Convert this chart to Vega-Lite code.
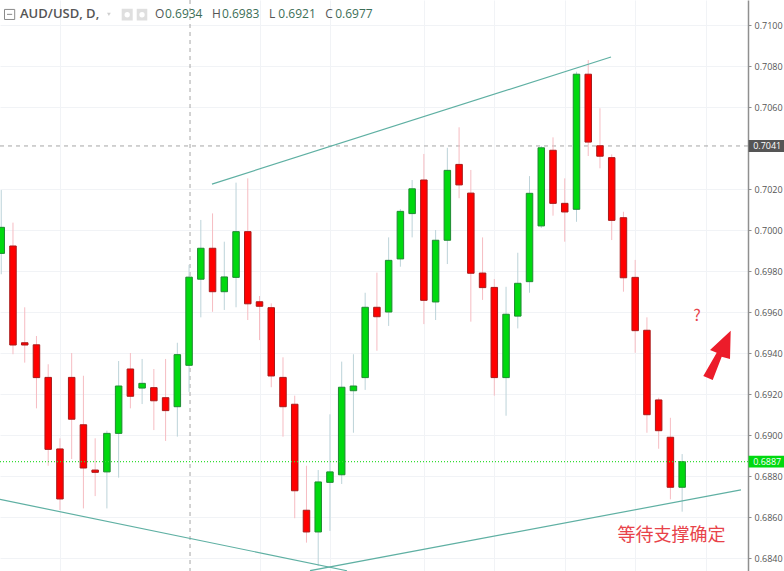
{"$schema":"https://vega.github.io/schema/vega-lite/v6.json","width":748,"height":571,"autosize":{"type":"none"},"padding":{"left":0,"top":0,"right":36,"bottom":0},"background":"#ffffff","config":{"view":{"stroke":null},"font":"Open Sans"},
"datasets":{
"candles":[
{"i":0,"dir":"up","o":0.69886,"h":0.70195,"l":0.69784,"c":0.70013},
{"i":1,"dir":"down","o":0.69922,"h":0.70036,"l":0.69394,"c":0.69439},
{"i":2,"dir":"down","o":0.6945,"h":0.69623,"l":0.69353,"c":0.69439},
{"i":3,"dir":"down","o":0.6944,"h":0.69483,"l":0.6913,"c":0.6928},
{"i":4,"dir":"down","o":0.69281,"h":0.69345,"l":0.6885,"c":0.6893},
{"i":5,"dir":"down","o":0.68932,"h":0.68984,"l":0.68634,"c":0.68688},
{"i":6,"dir":"down","o":0.69281,"h":0.694,"l":0.68883,"c":0.69077},
{"i":7,"dir":"down","o":0.6905,"h":0.69289,"l":0.68642,"c":0.68839},
{"i":8,"dir":"down","o":0.68829,"h":0.68984,"l":0.68702,"c":0.68818},
{"i":9,"dir":"up","o":0.6882,"h":0.69021,"l":0.68642,"c":0.69008},
{"i":10,"dir":"up","o":0.69008,"h":0.69361,"l":0.68792,"c":0.69239},
{"i":11,"dir":"down","o":0.69322,"h":0.694,"l":0.6913,"c":0.69189},
{"i":12,"dir":"up","o":0.69229,"h":0.69371,"l":0.69151,"c":0.69252},
{"i":13,"dir":"down","o":0.69231,"h":0.69322,"l":0.69024,"c":0.69167},
{"i":14,"dir":"down","o":0.69182,"h":0.69371,"l":0.68971,"c":0.69119},
{"i":15,"dir":"up","o":0.69138,"h":0.6945,"l":0.68992,"c":0.69392},
{"i":16,"dir":"up","o":0.6934,"h":0.6983,"l":0.6921,"c":0.6977},
{"i":17,"dir":"up","o":0.6976,"h":0.70049,"l":0.69574,"c":0.69911},
{"i":18,"dir":"down","o":0.69911,"h":0.70081,"l":0.69601,"c":0.69699},
{"i":19,"dir":"up","o":0.69699,"h":0.69943,"l":0.6961,"c":0.69771},
{"i":20,"dir":"up","o":0.69769,"h":0.70231,"l":0.69623,"c":0.69992},
{"i":21,"dir":"down","o":0.69992,"h":0.70252,"l":0.69561,"c":0.6964},
{"i":22,"dir":"down","o":0.6965,"h":0.69678,"l":0.69463,"c":0.69628},
{"i":23,"dir":"down","o":0.69621,"h":0.69642,"l":0.69233,"c":0.69288},
{"i":24,"dir":"down","o":0.69281,"h":0.69379,"l":0.68992,"c":0.69138},
{"i":25,"dir":"down","o":0.6915,"h":0.69192,"l":0.68594,"c":0.68728},
{"i":26,"dir":"down","o":0.68633,"h":0.6885,"l":0.68475,"c":0.68527},
{"i":27,"dir":"up","o":0.68527,"h":0.68829,"l":0.68361,"c":0.68771},
{"i":28,"dir":"up","o":0.68769,"h":0.69101,"l":0.68532,"c":0.6882},
{"i":29,"dir":"up","o":0.68806,"h":0.69358,"l":0.68761,"c":0.69233},
{"i":30,"dir":"up","o":0.69216,"h":0.69394,"l":0.69011,"c":0.69239},
{"i":31,"dir":"up","o":0.6928,"h":0.69694,"l":0.6922,"c":0.69623},
{"i":32,"dir":"down","o":0.69623,"h":0.69792,"l":0.69411,"c":0.69577},
{"i":33,"dir":"up","o":0.696,"h":0.69964,"l":0.69532,"c":0.69852},
{"i":34,"dir":"up","o":0.69859,"h":0.70102,"l":0.69821,"c":0.70091},
{"i":35,"dir":"up","o":0.7008,"h":0.70244,"l":0.69964,"c":0.70201},
{"i":36,"dir":"down","o":0.70244,"h":0.70371,"l":0.69541,"c":0.69657},
{"i":37,"dir":"up","o":0.69649,"h":0.7,"l":0.69561,"c":0.6995},
{"i":38,"dir":"up","o":0.6995,"h":0.70401,"l":0.69834,"c":0.70291},
{"i":39,"dir":"down","o":0.7032,"h":0.70501,"l":0.70155,"c":0.7022},
{"i":40,"dir":"down","o":0.7018,"h":0.70293,"l":0.69553,"c":0.69789},
{"i":41,"dir":"down","o":0.6979,"h":0.69964,"l":0.69659,"c":0.69719},
{"i":42,"dir":"down","o":0.6972,"h":0.69761,"l":0.69192,"c":0.6928},
{"i":43,"dir":"up","o":0.6928,"h":0.69723,"l":0.69094,"c":0.69589},
{"i":44,"dir":"up","o":0.6958,"h":0.69889,"l":0.6952,"c":0.6974},
{"i":45,"dir":"up","o":0.69748,"h":0.70263,"l":0.69694,"c":0.70179},
{"i":46,"dir":"up","o":0.7002,"h":0.7041,"l":0.7001,"c":0.70401},
{"i":47,"dir":"down","o":0.70389,"h":0.70452,"l":0.7007,"c":0.7013},
{"i":48,"dir":"down","o":0.7013,"h":0.70252,"l":0.69943,"c":0.70088},
{"i":49,"dir":"up","o":0.70101,"h":0.70772,"l":0.7004,"c":0.7076},
{"i":50,"dir":"down","o":0.7076,"h":0.70829,"l":0.70361,"c":0.70429},
{"i":51,"dir":"down","o":0.70411,"h":0.70594,"l":0.70301,"c":0.7036},
{"i":52,"dir":"down","o":0.70353,"h":0.70369,"l":0.69951,"c":0.70047},
{"i":53,"dir":"down","o":0.7006,"h":0.70089,"l":0.69699,"c":0.69767},
{"i":54,"dir":"down","o":0.69769,"h":0.69854,"l":0.69401,"c":0.69509},
{"i":55,"dir":"down","o":0.69511,"h":0.69574,"l":0.69011,"c":0.69099},
{"i":56,"dir":"down","o":0.69171,"h":0.69182,"l":0.68933,"c":0.69021},
{"i":57,"dir":"down","o":0.68989,"h":0.69084,"l":0.68686,"c":0.68745},
{"i":58,"dir":"up","o":0.68745,"h":0.68907,"l":0.68626,"c":0.6887}
],
"trend":[
{"id":"upper","i":17.95,"p":0.70224},{"id":"upper","i":51.94,"p":0.70844},
{"id":"falling","i":-0.106,"p":0.68686},{"id":"falling","i":29.45,"p":0.68338},
{"id":"rising","i":26.3,"p":0.68338},{"id":"rising","i":63.01,"p":0.68732}
],
"levels":[{"p":0.7041,"t":"0.7041","kind":"prev"},{"p":0.6887,"t":"0.6887","kind":"last"}],
"boxes":[{"i":10.26,"i2":11.2,"p":0.71079,"p2":0.71022},{"i":11.54,"i2":12.44,"p":0.71079,"p2":0.71022}],
"dots":[{"i":10.73,"p":0.7105},{"i":11.99,"p":0.7105}],
"letters":[{"i":13.1,"t":"O"},{"i":17.95,"t":"H"},{"i":22.8,"t":"L"},{"i":27.6,"t":"C"}],
"ohlc":[{"i":13.95,"t":"0.6934"},{"i":18.8,"t":"0.6983"},{"i":23.6,"t":"0.6921"},{"i":28.45,"t":"0.6977"}]
},
"encoding":{},
"layer":[
{"data":{"name":"levels"},"transform":[{"filter":"datum.kind=='none'"}],"mark":{"type":"rule","opacity":0},
 "encoding":{"x":{"datum":16.08,"type":"quantitative","scale":{"domain":[-0.106,63.61],"nice":false,"zero":false,"padding":0},
   "axis":{"orient":"bottom","values":[5,22,28,36,42,48,54,60],"labels":false,"ticks":false,"domain":false,"title":null,"grid":true,"gridColor":"#f1f3f6","gridWidth":1}},
  "y":{"field":"p","type":"quantitative","scale":{"domain":[0.683366,0.71122],"nice":false,"zero":false,"padding":0},
   "axis":{"orient":"right","values":[0.684,0.686,0.688,0.69,0.692,0.694,0.696,0.698,0.7,0.702,0.706,0.708,0.71],"format":".4f","title":null,"grid":true,"gridColor":"#f1f3f6","gridWidth":1,"domain":true,"domainColor":"#8f8f8f","domainWidth":1.5,"tickColor":"#8f8f8f","tickSize":3,"labelPadding":3,"labelFont":"Open Sans","labelFontSize":9,"labelColor":"#555555","labelFlush":false,"labelOverlap":false}}}},
{"data":{"values":[{"v":16.08}]},"mark":{"type":"rule","color":"#a6a6a6","strokeWidth":1,"strokeDash":[4,4]},"encoding":{"x":{"field":"v","type":"quantitative"}}},
{"data":{"values":[{"v":0.7041}]},"mark":{"type":"rule","color":"#a6a6a6","strokeWidth":1,"strokeDash":[4,4]},"encoding":{"y":{"field":"v","type":"quantitative"}}},
{"data":{"name":"candles"},"mark":{"type":"rule","strokeWidth":1},"encoding":{"x":{"field":"i","type":"quantitative"},"y":{"field":"h","type":"quantitative"},"y2":{"field":"l"},
  "stroke":{"field":"dir","type":"nominal","legend":null,"scale":{"domain":["up","down"],"range":["#bcd3d9","#f6bcc2"]}}}},
{"data":{"name":"candles"},"mark":{"type":"bar","size":6.5,"strokeWidth":1},"encoding":{"x":{"field":"i","type":"quantitative"},"y":{"field":"o","type":"quantitative"},"y2":{"field":"c"},
  "fill":{"field":"dir","type":"nominal","legend":null,"scale":{"domain":["up","down"],"range":["#00d90f","#ff0000"]}},
  "stroke":{"field":"dir","type":"nominal","legend":null,"scale":{"domain":["up","down"],"range":["#1f8a33","#a81a1a"]}}}},
{"data":{"values":[{"v":0.6887}]},"mark":{"type":"rule","stroke":"#33dd33","strokeWidth":1.2,"strokeDash":[1,2]},"encoding":{"y":{"field":"v","type":"quantitative"}}},
{"data":{"name":"trend"},"mark":{"type":"line","color":"#5fb0a3","strokeWidth":1.2},"encoding":{"x":{"field":"i","type":"quantitative"},"y":{"field":"p","type":"quantitative"},"detail":{"field":"id"}}},
{"data":{"values":[{"i":61.14,"p":0.6939}]},"mark":{"type":"point","filled":true,"opacity":1,"color":"#ec1c2a","size":4,"shape":"M11.7,-24.3L-9,-5L-2.3,-2.3L-15.7,21L-6.3,25L2.7,1.7L11,4Z"},"encoding":{"x":{"field":"i","type":"quantitative"},"y":{"field":"p","type":"quantitative"}}},
{"data":{"values":[{"i":59.26,"p":0.6958,"t":"?"}]},"mark":{"type":"text","font":"Noto Sans CJK SC","fontSize":16,"color":"#e8434a","align":"center","baseline":"middle"},"encoding":{"x":{"field":"i","type":"quantitative"},"y":{"field":"p","type":"quantitative"},"text":{"field":"t"}}},
{"data":{"values":[{"i":57.1,"p":0.68507,"t":"等待支撑确定"}]},"mark":{"type":"text","font":"Noto Sans CJK SC","fontSize":18,"color":"#e8434a","align":"center","baseline":"middle"},"encoding":{"x":{"field":"i","type":"quantitative"},"y":{"field":"p","type":"quantitative"},"text":{"field":"t"}}},
{"data":{"name":"levels"},"transform":[{"calculate":"63.66","as":"a"},{"calculate":"66.7","as":"b"},{"calculate":"datum.p+0.00029","as":"u"},{"calculate":"datum.p-0.00029","as":"d"}],"mark":{"type":"rect","clip":false},"encoding":{"x":{"field":"a","type":"quantitative"},"x2":{"field":"b"},"y":{"field":"u","type":"quantitative"},"y2":{"field":"d"},"fill":{"field":"kind","type":"nominal","legend":null,"scale":{"domain":["prev","last"],"range":["#555555","#00d90f"]}}}},
{"data":{"name":"levels"},"transform":[{"calculate":"64.05","as":"a"}],"mark":{"type":"text","align":"left","baseline":"middle","font":"Open Sans","fontSize":9,"color":"#ffffff","clip":false},"encoding":{"x":{"field":"a","type":"quantitative"},"y":{"field":"p","type":"quantitative"},"text":{"field":"t"}}},
{"data":{"values":[{"i":1.6,"p":0.71054,"t":"AUD/USD, D,"}]},"mark":{"type":"text","align":"left","baseline":"middle","font":"Open Sans","fontSize":13,"fontWeight":600,"color":"#555555"},"encoding":{"x":{"field":"i","type":"quantitative"},"y":{"field":"p","type":"quantitative"},"text":{"field":"t"}}},
{"data":{"name":"letters"},"mark":{"type":"text","align":"left","baseline":"middle","font":"Open Sans","fontSize":12,"color":"#555555","y":14},"encoding":{"x":{"field":"i","type":"quantitative"},"text":{"field":"t"}}},
{"data":{"name":"ohlc"},"mark":{"type":"text","align":"left","baseline":"middle","font":"Open Sans","fontSize":12,"color":"#3c6e57","y":14},"encoding":{"x":{"field":"i","type":"quantitative"},"text":{"field":"t"}}},
{"data":{"name":"boxes"},"mark":{"type":"rect","fill":"#dfdfdf"},"encoding":{"x":{"field":"i","type":"quantitative"},"x2":{"field":"i2"},"y":{"field":"p","type":"quantitative"},"y2":{"field":"p2"}}},
{"data":{"name":"dots"},"mark":{"type":"point","filled":true,"color":"#ffffff","opacity":1,"size":28},"encoding":{"x":{"field":"i","type":"quantitative"},"y":{"field":"p","type":"quantitative"}}},
{"data":{"values":[{"i":0.277,"i2":1.146,"p":0.71076,"p2":0.71027}]},"mark":{"type":"rect","fill":"#ffffff","stroke":"#8a8a8a","strokeWidth":1},"encoding":{"x":{"field":"i","type":"quantitative"},"x2":{"field":"i2"},"y":{"field":"p","type":"quantitative"},"y2":{"field":"p2"}}},
{"data":{"values":[{"i":0.49,"i2":0.93,"p":0.71052}]},"mark":{"type":"rule","color":"#8a8a8a","strokeWidth":1},"encoding":{"x":{"field":"i","type":"quantitative"},"x2":{"field":"i2"},"y":{"field":"p","type":"quantitative"}}},
{"data":{"values":[{"i":9.17,"p":0.71052}]},"mark":{"type":"point","filled":true,"opacity":1,"color":"#cfcfcf","size":14,"shape":"triangle-down"},"encoding":{"x":{"field":"i","type":"quantitative"},"y":{"field":"p","type":"quantitative"}}}
],
"resolve":{"scale":{"stroke":"independent","fill":"independent"}}}
